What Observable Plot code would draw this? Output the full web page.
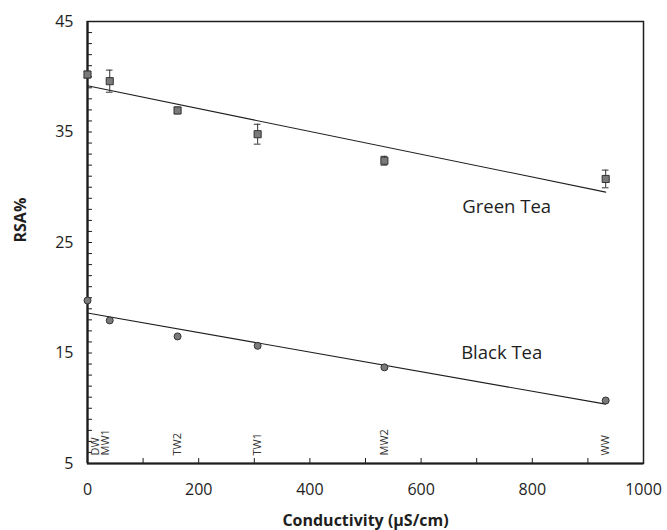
<!DOCTYPE html>
<html>
<head>
<meta charset="utf-8">
<script src="https://cdn.jsdelivr.net/npm/d3@7"></script>
<script src="https://cdn.jsdelivr.net/npm/@observablehq/plot@0.6"></script>
<style>
  html, body { margin: 0; padding: 0; background: #fff; }
  #chart svg { display: block; }
</style>
</head>
<body>
<div id="chart"></div>
<script>
// Data
const conductivity = [0, 40, 162, 306, 534, 932];
const waterLabels = ["DW", "MW1", "TW2", "TW1", "MW2", "WW"];
const greenTea = [40.2, 39.6, 36.95, 34.8, 32.4, 30.75];
const greenTeaErr = [0.3, 1.0, 0.3, 0.9, 0.4, 0.8];
const blackTea = [19.75, 17.95, 16.5, 15.65, 13.7, 10.7];
const xTickLabels = [0, 200, 400, 600, 800, 1000];
const yTickLabels = [5, 15, 25, 35, 45];

const green = conductivity.map((x, i) => ({x, y: greenTea[i], e: greenTeaErr[i]}));
const black = conductivity.map((x, i) => ({x, y: blackTea[i]}));
const labels = conductivity.map((x, i) => ({x, label: waterLabels[i]}));

const font = "'Open Sans', 'DejaVu Sans', sans-serif";
const ink = "#1e1e1e";

const chart = Plot.plot({
  width: 667,
  height: 530,
  marginLeft: 87,
  marginRight: 24,
  marginTop: 21,
  marginBottom: 67,
  style: {fontFamily: font, background: "#fff", color: ink},
  x: {domain: [0, 1000]},
  y: {domain: [5, 45]},
  marks: [
    // minor inward ticks
    Plot.axisX({ticks: d3.range(0, 1001, 100), tickSize: -5, text: null, label: null, stroke: ink, strokeWidth: 1}),
    Plot.axisY({ticks: d3.range(5, 46, 1), tickSize: -5, text: null, label: null, stroke: ink, strokeWidth: 1}),
    // tick labels
    Plot.axisX({ticks: xTickLabels, tickFormat: d => String(d), tickSize: 0, tickPadding: 20, fontSize: 16, label: null, fill: ink}),
    Plot.axisY({ticks: yTickLabels, tickFormat: d => String(d), tickSize: 0, tickPadding: 14, fontSize: 16, label: null, fill: ink}),
    // frame
    Plot.frame({stroke: ink, strokeWidth: 1.5}),
    Plot.ruleX([0], {stroke: ink, strokeWidth: 2.2}),
    Plot.ruleY([5], {stroke: ink, strokeWidth: 2.2}),
    // regression lines
    Plot.linearRegressionY(green, {x: "x", y: "y", ci: 0, stroke: ink, strokeWidth: 1.1}),
    Plot.linearRegressionY(black, {x: "x", y: "y", ci: 0, stroke: ink, strokeWidth: 1.1}),
    // error bars
    Plot.ruleX(green, {x: "x", y1: d => d.y - d.e, y2: d => d.y + d.e, stroke: "#333", strokeWidth: 1}),
    Plot.ruleY(green, {y: d => d.y + d.e, x1: d => d.x - 6, x2: d => d.x + 6, stroke: "#333", strokeWidth: 1}),
    Plot.ruleY(green, {y: d => d.y - d.e, x1: d => d.x - 6, x2: d => d.x + 6, stroke: "#333", strokeWidth: 1}),
    // markers
    Plot.dot(green, {x: "x", y: "y", symbol: "square", r: 4, fill: "#7a7a7a", stroke: "#333", strokeWidth: 1}),
    Plot.dot(black, {x: "x", y: "y", symbol: "circle", r: 3.5, fill: "#7a7a7a", stroke: "#333", strokeWidth: 1}),
    // water source labels
    Plot.text(labels.slice(0, 1), {x: "x", y: 5, text: "label", rotate: -90, textAnchor: "start", dx: 8, dy: -8, fontSize: 11, fill: "#333"}),
    Plot.text(labels.slice(1, 2), {x: "x", y: 5, text: "label", rotate: -90, textAnchor: "start", dx: -4, dy: -8, fontSize: 11, fill: "#333"}),
    Plot.text(labels.slice(2), {x: "x", y: 5, text: "label", rotate: -90, textAnchor: "start", dy: -8, fontSize: 11, fill: "#333"}),
    // series annotations
    Plot.text(["Green Tea"], {x: 754, y: 28.2, text: d => d, fontSize: 18.5, fill: ink}),
    Plot.text(["Black Tea"], {x: 745, y: 14.95, text: d => d, fontSize: 18.5, fill: ink}),
    // axis titles
    Plot.text(["Conductivity (µS/cm)"], {frameAnchor: "bottom", dy: 62, text: d => d, fontSize: 16, fontWeight: "bold", fill: ink}),
    Plot.text(["RSA%"], {frameAnchor: "left", dx: -67, rotate: -90, text: d => d, fontSize: 16, fontWeight: "bold", fill: ink})
  ]
});
document.getElementById("chart").appendChild(chart);
</script>
</body>
</html>
